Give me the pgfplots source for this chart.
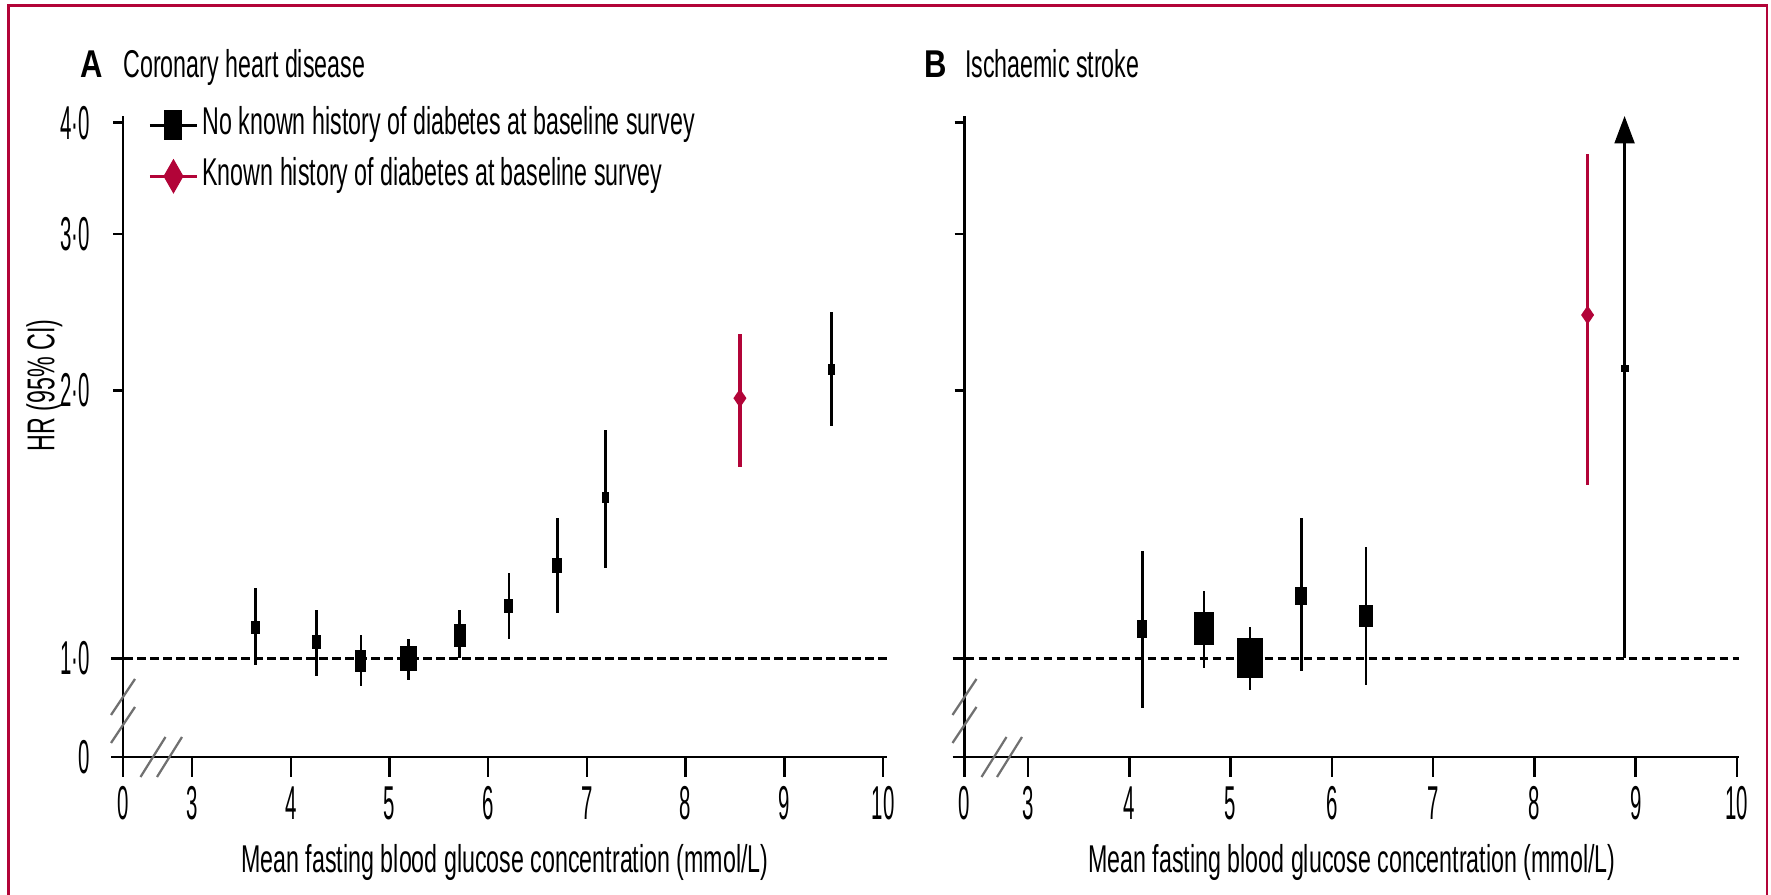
\documentclass[border=0pt]{standalone}
\usepackage{fontspec}
\setmainfont{Liberation Sans}[FakeStretch=0.6]
\newfontfamily\tickfont{Liberation Sans}[FakeStretch=0.43]
\newfontfamily\panelfont{Liberation Sans}[FakeStretch=0.8]
\usepackage{pgfplots}
\pgfplotsset{compat=1.18}
\usepackage{pgfplotstable}
\usetikzlibrary{arrows.meta}

\definecolor{lancetred}{RGB}{178,4,56}
\definecolor{breakgray}{RGB}{112,112,112}

% box whose width and height (pt) come from the table: weight of each group
\pgfdeclareplotmark{hrbox}{%
  \pgfpathrectangle{\pgfpoint{-0.5*\bw pt}{-0.5*\bh pt}}{\pgfpoint{\bw pt}{\bh pt}}%
  \pgfusepathqfill}
\pgfdeclareplotmark{legbox}{%
  \pgfpathrectangle{\pgfpoint{-3.6pt}{-5.8pt}}{\pgfpoint{7.2pt}{11.6pt}}%
  \pgfusepathqfill}
\pgfdeclareplotmark{diab}{%
  \pgfpathmoveto{\pgfpoint{0pt}{3.8pt}}%
  \pgfpathlineto{\pgfpoint{2.6pt}{0pt}}%
  \pgfpathlineto{\pgfpoint{0pt}{-3.8pt}}%
  \pgfpathlineto{\pgfpoint{-2.6pt}{0pt}}%
  \pgfpathclose\pgfusepathqfill}
\pgfdeclareplotmark{legdiab}{%
  \pgfpathmoveto{\pgfpoint{0pt}{7pt}}%
  \pgfpathlineto{\pgfpoint{4pt}{0pt}}%
  \pgfpathlineto{\pgfpoint{0pt}{-7pt}}%
  \pgfpathlineto{\pgfpoint{-4pt}{0pt}}%
  \pgfpathclose\pgfusepathqfill}

% Coronary heart disease, no known diabetes: x, HR, CI, box size (pt)
\pgfplotstableread{
x     y      lo     hi     w     h
3.64  1.083  0.983  1.199  3.6   5.2
4.26  1.044  0.956  1.134  3.6   5.6
4.71  0.994  0.930  1.063  4.4   8.8
5.19  1.000  0.946  1.052  6.8   10.0
5.71  1.062  1.000  1.134  4.8   9.2
6.21  1.146  1.052  1.247  3.6   5.6
6.70  1.273  1.126  1.439  4.0   6.0
7.19  1.518  1.262  1.806  2.8   4.4
9.48  2.112  1.826  2.451  2.8   4.4
}\chdnodiab
\pgfplotstableread{
x     y      lo     hi
8.55  1.961  1.643  2.315
}\chddiab
% Ischaemic stroke
\pgfplotstableread{
x     y      lo     hi     w     h
4.13  1.079  0.879  1.320  4.0   7.2
4.74  1.080  0.975  1.191  8.0   13.2
5.19  1.000  0.922  1.084  10.4  16.0
5.70  1.174  0.968  1.438  4.8   7.2
6.34  1.115  0.933  1.335  5.6   8.8
8.89  2.118  1.000  3.900  3.2   2.8
}\strokenodiab
\pgfplotstableread{
x      y      lo     hi
8.525  2.432  1.567  3.694
}\strokediab

\tikzset{
  refline/.style={black, line width=1.1pt, dash pattern=on 3.4pt off 1.8pt,
    shorten <=-4.8pt},
  breakmark/.style={breakgray, line width=0.9pt},
}

\begin{document}
\fontsize{15.5}{18}\selectfont
\begin{tikzpicture}
\path[use as bounding box] (0,0) rectangle (708.4pt,358pt);
\draw[lancetred, line width=1pt] (3.4pt,0) -- (3.4pt,355.8pt) -- (706.8pt,355.8pt) -- (706.8pt,0);

% ---------------- A: coronary heart disease ----------------
\begin{axis}[
  scale only axis, height=256.4pt, width=305.6pt,
  at={(49.2pt,55.2pt)}, anchor=south west,
  ymode=log, ymin=0.775, ymax=4.07,
  xmin=2.30, xmax=10.04,
  axis x line=bottom, axis y line=left,
  axis line style={-, line width=1pt, black},
  x axis line style={shorten <=-4.8pt, line width=1.1pt},
  tick align=outside,
  major tick length=8pt,
  tick style={line width=1pt, black},
  ytick style={/pgfplots/major tick length=4pt},
  yminorticks=false, xminorticks=false,
  clip=false,
  tick label style={font=\tickfont\fontsize{19}{21}\selectfont},
  xticklabel style={yshift=1.5pt},
  xtick={2.30,3,4,5,6,7,8,9,10}, xticklabels={0,3,4,5,6,7,8,9,10},
  ytick={0.775,1,2,3,4}, yticklabels={0,1·0,2·0,3·0,4·0},
  xlabel={Mean fasting blood glucose concentration (mmol/L)},
  xlabel style={at={(axis description cs:0.5,-0.164)}, anchor=center},
  ylabel={HR (95\% CI)},
  ylabel style={at={(axis description cs:-0.103,0.580)}, anchor=center},
  legend image code/.code={\draw[mark repeat=2,mark phase=2,#1]
    plot coordinates {(0pt,0pt) (9.4pt,0pt) (18.8pt,0pt)};},
  legend style={draw=none, fill=none, at={(axis description cs:0.0327,1.015)},
    anchor=north west, inner sep=0pt, row sep=6pt, column sep=1.6pt,
    nodes={inner sep=0pt, text height=11pt, text depth=3.5pt}},
  legend cell align=left,
]
\addlegendimage{black, line width=1.2pt, mark=legbox}
\addlegendentry{No known history of diabetes at baseline survey}
\addlegendimage{lancetred, line width=1.2pt, mark=legdiab}
\addlegendentry{Known history of diabetes at baseline survey}

\addplot[refline, forget plot] coordinates {(2.30,1) (10.04,1)};
\addplot[forget plot, scatter, only marks, mark=hrbox,
    scatter/use mapped color={draw=black, fill=black},
    visualization depends on={\thisrow{w} \as \bw},
    visualization depends on={\thisrow{h} \as \bh},
    error bars/.cd, y dir=both, y explicit, error mark=none,
    error bar style={line width=1pt, black}]
  table[x=x, y=y,
  y error plus expr=\thisrow{hi}-\thisrow{y},
  y error minus expr=\thisrow{y}-\thisrow{lo}] {\chdnodiab};
\addplot[forget plot, only marks, mark=diab, lancetred,
    error bars/.cd, y dir=both, y explicit, error mark=none,
    error bar style={line width=1.3pt, lancetred}]
  table[x=x, y=y,
  y error plus expr=\thisrow{hi}-\thisrow{y},
  y error minus expr=\thisrow{y}-\thisrow{lo}] {\chddiab};

\draw[breakmark] ([yshift=24pt]axis cs:2.30,0.775) ++(-4.8pt,-7.2pt) -- ++(9.6pt,14.4pt);
\draw[breakmark] ([yshift=12.8pt]axis cs:2.30,0.775) ++(-4.8pt,-7.2pt) -- ++(9.6pt,14.4pt);
\draw[breakmark] ([xshift=12pt]axis cs:2.30,0.775) ++(-5pt,-8pt) -- ++(10pt,16pt);
\draw[breakmark] ([xshift=18.6pt]axis cs:2.30,0.775) ++(-5pt,-8pt) -- ++(10pt,16pt);

\node[anchor=base west, inner sep=0pt, font=\panelfont\bfseries] at (axis description cs:-0.0562,1.0608) {A};
\node[anchor=base west, inner sep=0pt] at (axis description cs:0,1.0608) {Coronary heart disease};
\end{axis}

% ---------------- B: ischaemic stroke ----------------
\begin{axis}[
  scale only axis, height=256.4pt, width=309.8pt,
  at={(385.8pt,55.2pt)}, anchor=south west,
  ymode=log, ymin=0.775, ymax=4.07,
  xmin=2.373, xmax=10.02,
  axis x line=bottom, axis y line=left,
  axis line style={-, line width=1pt, black},
  x axis line style={shorten <=-4.8pt, line width=1.1pt},
  tick align=outside,
  major tick length=8pt,
  tick style={line width=1pt, black},
  ytick style={/pgfplots/major tick length=4pt},
  yminorticks=false, xminorticks=false,
  clip=false,
  tick label style={font=\tickfont\fontsize{19}{21}\selectfont},
  xticklabel style={yshift=1.5pt},
  xtick={2.373,3,4,5,6,7,8,9,10}, xticklabels={0,3,4,5,6,7,8,9,10},
  ytick={1,2,3,4}, yticklabels={},
  xlabel={Mean fasting blood glucose concentration (mmol/L)},
  xlabel style={at={(axis description cs:0.5,-0.164)}, anchor=center},
]
\addplot[refline] coordinates {(2.373,1) (10.02,1)};
\addplot[scatter, only marks, mark=hrbox,
    scatter/use mapped color={draw=black, fill=black},
    visualization depends on={\thisrow{w} \as \bw},
    visualization depends on={\thisrow{h} \as \bh},
    error bars/.cd, y dir=both, y explicit, error mark=none,
    error bar style={line width=0.9pt, black}]
  table[x=x, y=y,
  y error plus expr=\thisrow{hi}-\thisrow{y},
  y error minus expr=\thisrow{y}-\thisrow{lo}] {\strokenodiab};
% upper confidence limit beyond the axis range
\addplot[black, line width=0.9pt, -{Triangle[width=8pt,length=11pt]}]
  coordinates {(8.89,3.5) (8.89,4.07)};
\addplot[only marks, mark=diab, lancetred,
    error bars/.cd, y dir=both, y explicit, error mark=none,
    error bar style={line width=1.3pt, lancetred}]
  table[x=x, y=y,
  y error plus expr=\thisrow{hi}-\thisrow{y},
  y error minus expr=\thisrow{y}-\thisrow{lo}] {\strokediab};

\draw[breakmark] ([yshift=24pt]axis cs:2.373,0.775) ++(-4.8pt,-7.2pt) -- ++(9.6pt,14.4pt);
\draw[breakmark] ([yshift=12.8pt]axis cs:2.373,0.775) ++(-4.8pt,-7.2pt) -- ++(9.6pt,14.4pt);
\draw[breakmark] ([xshift=11.8pt]axis cs:2.373,0.775) ++(-5pt,-8pt) -- ++(10pt,16pt);
\draw[breakmark] ([xshift=18pt]axis cs:2.373,0.775) ++(-5pt,-8pt) -- ++(10pt,16pt);

\node[anchor=base west, inner sep=0pt, font=\panelfont\bfseries] at (axis description cs:-0.0523,1.0608) {B};
\node[anchor=base west, inner sep=0pt] at (axis description cs:0,1.0608) {Ischaemic stroke};
\end{axis}
\end{tikzpicture}
\end{document}
